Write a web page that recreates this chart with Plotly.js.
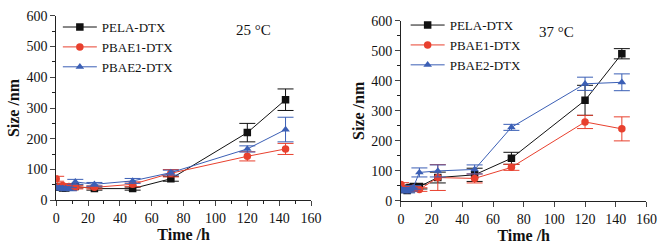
<!DOCTYPE html>
<html><head><meta charset="utf-8">
<script src="https://cdn.plot.ly/plotly-3.0.1.min.js"></script>
<style>html,body{margin:0;padding:0;background:#fff}#c{width:665px;height:246px}</style>
</head><body><div id="c"></div>
<script>
const time = [0, 2, 4, 6, 8, 12, 24, 48, 72, 120, 144];
const names = ["PELA-DTX", "PBAE1-DTX", "PBAE2-DTX"];
// 25 °C
const pela25 = [45, 42, 40, 40, 42, 45, 38, 38, 70, 220, 327];
const pela25Err = [5, 4, 4, 4, 4, 5, 5, 5, 8, 30, 35];
const pbae1_25 = [70, 45, 48, 42, 45, 42, 42, 52, 88, 143, 167];
const pbae1_25Err = [8, 6, 5, 5, 5, 5, 5, 8, 12, 15, 18];
const pbae2_25 = [42, 40, 38, 38, 36, 60, 52, 63, 90, 167, 230];
const pbae2_25Err = [5, 5, 5, 5, 5, 8, 6, 8, 8, 10, 40];
// 37 °C
const pela37 = [40, 38, 35, 45, 48, 48, 78, 87, 142, 335, 490];
const pela37Err = [5, 5, 5, 6, 6, 8, 18, 22, 20, 50, 17];
const pbae1_37 = [55, 40, 38, 40, 42, 38, 78, 75, 112, 263, 240];
const pbae1_37Err = [6, 5, 5, 5, 5, 6, 43, 15, 10, 22, 40];
const pbae2_37 = [40, 35, 32, 38, 45, 95, 100, 105, 245, 390, 395];
const pbae2_37Err = [5, 5, 5, 5, 6, 15, 20, 15, 10, 22, 28];

const colors = ["#111111", "#e8402e", "#3b5fb5"];
const symbols = ["square", "circle", "triangle-up"];
const font = "Liberation Serif, Times New Roman, serif";

function tr(y, err, i, xa, ya, leg) {
  return {
    x: time, y: y, name: names[i], type: "scatter", mode: "lines+markers",
    xaxis: xa, yaxis: ya, legend: leg,
    line: {color: colors[i], width: 1},
    marker: {color: colors[i], symbol: symbols[i], size: 7.5},
    error_y: {type: "data", array: err, visible: true, color: colors[i], thickness: 1, width: 8}
  };
}
const data = [
  tr(pela25, pela25Err, 0, "x", "y", "legend"),
  tr(pbae1_25, pbae1_25Err, 1, "x", "y", "legend"),
  tr(pbae2_25, pbae2_25Err, 2, "x", "y", "legend"),
  tr(pela37, pela37Err, 0, "x2", "y2", "legend2"),
  tr(pbae1_37, pbae1_37Err, 1, "x2", "y2", "legend2"),
  tr(pbae2_37, pbae2_37Err, 2, "x2", "y2", "legend2")
];
function xax(dom, anchor, withMinor) {
  const a = {domain: dom, anchor: anchor, range: [0, 160], dtick: 20, ticks: "outside", ticklen: 5,
    showline: true, linecolor: "#222", linewidth: 1, showgrid: false, zeroline: false,
    ticklabeloverflow: "allow",
    tickfont: {family: font, size: 14, color: "#111"},
    title: {text: "<b>Time /h</b>", font: {family: font, size: 16, color: "#111"}, standoff: 0}};
  if (withMinor) a.minor = {ticks: "outside", ticklen: 3, dtick: 10, tickcolor: "#222"};
  return a;
}
function yax(dom, anchor) {
  return {domain: dom, anchor: anchor, range: [0, 600], dtick: 100, ticks: "outside", ticklen: 5,
    showline: true, linecolor: "#222", linewidth: 1, showgrid: false, zeroline: false,
    ticklabeloverflow: "allow",
    tickfont: {family: font, size: 14, color: "#111"},
    minor: {ticks: "outside", ticklen: 3, dtick: 50, tickcolor: "#222"},
    title: {text: "<b>Size /nm</b>", font: {family: font, size: 16, color: "#111"}, standoff: 2}};
}
const legBase = {font: {family: font, size: 13, color: "#111"}, bgcolor: "rgba(0,0,0,0)",
  xanchor: "left", yanchor: "top", tracegroupgap: 0, itemwidth: 34};
const layout = {
  width: 665, height: 246, margin: {l: 0, r: 0, t: 0, b: 0},
  paper_bgcolor: "#fff", plot_bgcolor: "#fff", showlegend: true,
  xaxis: xax([0.0845, 0.4677], "y", true),
  yaxis: yax([0.1858, 0.936], "x"),
  xaxis2: xax([0.603, 0.972], "y2", false),
  xaxis3: {overlaying: "x2", anchor: "y2", range: [0, 160], dtick: 10, ticks: "outside", ticklen: 3,
    tickcolor: "#222", showticklabels: false, showline: false, showgrid: false, zeroline: false},
  yaxis2: yax([0.183, 0.9159], "x2"),
  legend: Object.assign({x: 0.087, y: 0.951}, legBase),
  legend2: Object.assign({x: 0.61, y: 0.959}, legBase),
  annotations: [
    {text: "25 °C", xref: "paper", yref: "paper", x: 253/665, y: 1 - 20/246, showarrow: false,
     font: {family: font, size: 15, color: "#111"}},
    {text: "37 °C", xref: "paper", yref: "paper", x: 576/665, y: 1 - 22/246, showarrow: false,
     font: {family: font, size: 15, color: "#111"}}
  ]
};
Plotly.newPlot("c", data, layout, {displayModeBar: false, staticPlot: true});
</script></body></html>
